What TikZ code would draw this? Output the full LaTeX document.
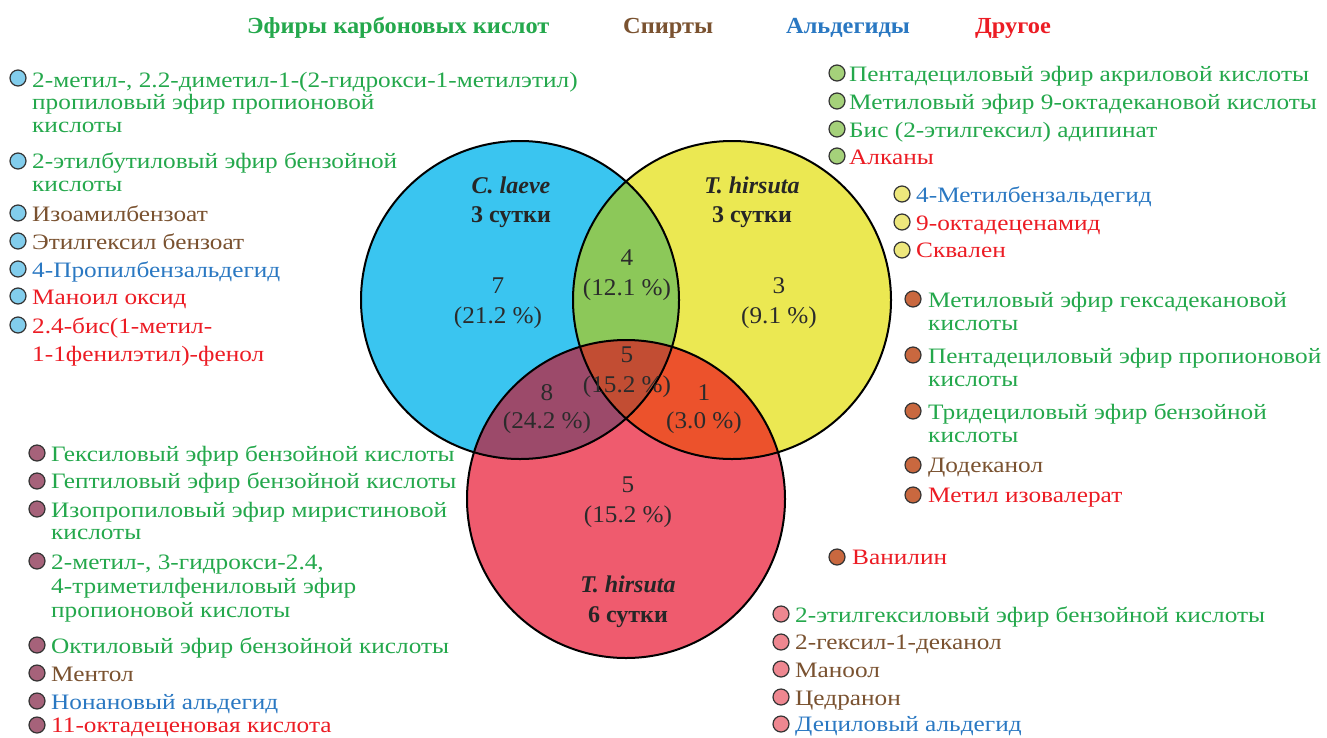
\documentclass[tikz,border=0pt]{standalone}
\usepackage{fontspec}
\setmainfont{Liberation Serif}
\newfontfamily\listfont[FakeStretch=1.15]{Liberation Serif}
\newfontfamily\hdfont[FakeStretch=1.06]{Liberation Serif}
\newfontfamily\numfont[FakeStretch=1.05]{Liberation Serif}
\definecolor{cEst}{HTML}{24A84C}
\definecolor{cAlc}{HTML}{7A5230}
\definecolor{cAld}{HTML}{2A78C2}
\definecolor{cOth}{HTML}{EC1C24}
\definecolor{fBlue}{HTML}{3AC5F0}
\definecolor{fYel}{HTML}{EBE852}
\definecolor{fPink}{HTML}{EF5B6E}
\definecolor{fGreen}{HTML}{8CC859}
\definecolor{fMauve}{HTML}{9C4A6A}
\definecolor{fOrange}{HTML}{EC522C}
\definecolor{fCenter}{HTML}{C24D33}
\definecolor{bBlue}{HTML}{82CDEC}
\definecolor{bGreen}{HTML}{A5D17A}
\definecolor{bYel}{HTML}{EDE77C}
\definecolor{bOrange}{HTML}{C9683F}
\definecolor{bMauve}{HTML}{A6627A}
\definecolor{bPink}{HTML}{EE8790}
\definecolor{numc}{HTML}{2B2B2B}
\newcommand\mytext[5]{\node[lt,text=#4] (#1) at (#2,#3) {#5};}
\newcommand\mybul[4]{\node[bul,fill=#4] (#1) at (#2,#3) {};}
\newcommand\mynum[4]{\node[num] (#1) at (#2,#3) {#4};}
\tikzset{
  lt/.style={anchor=base west,inner sep=0pt,font=\listfont\fontsize{22}{24}\selectfont},
  hd/.style={anchor=base west,inner sep=0pt,font=\hdfont\fontsize{23}{25}\selectfont\bfseries},
  bul/.style={circle,draw=black!80,line width=1.2pt,minimum size=16pt,inner sep=0pt},
  num/.style={anchor=base,inner sep=0pt,text=numc,font=\numfont\fontsize{24}{26}\selectfont},
  ttl/.style={anchor=base,inner sep=0pt,text=black!85,font=\fontsize{24}{26}\selectfont\bfseries},
  venn/.style={draw=black,line width=2pt}
}
\begin{document}
\begin{tikzpicture}[x=1pt,y=-1pt]
\useasboundingbox (0,0) rectangle (1327,737);
\fill[white] (0,0) rectangle (1327,737);
% circles
\coordinate (cA) at (520,300);
\coordinate (cB) at (732,300);
\coordinate (cC) at (626,499);
\def\R{159}
\fill[fBlue] (cA) circle (\R);
\fill[fYel] (cB) circle (\R);
\fill[fPink] (cC) circle (\R);
\begin{scope}
  \clip (cA) circle (\R);
  \fill[fGreen] (cB) circle (\R);
  \fill[fMauve] (cC) circle (\R);
  \clip (cB) circle (\R);
  \fill[fCenter] (cC) circle (\R);
\end{scope}
\begin{scope}[even odd rule]
  \clip (cB) circle (\R);
  \clip (cA) circle (\R) (-100,-100) rectangle (1500,900);
  \fill[fOrange] (cC) circle (\R);
\end{scope}
\draw[venn] (cA) circle (\R);
\draw[venn] (cB) circle (\R);
\draw[venn] (cC) circle (\R);
% titles
\node[ttl] (tA1) at (511,193) {\textit{C. laeve}};
\node[ttl] (tA2) at (511,222) {3 сутки};
\node[ttl] (tB1) at (752,193) {\textit{T. hirsuta}};
\node[ttl] (tB2) at (752,222) {3 сутки};
\node[ttl] (tC1) at (628,592) {\textit{T. hirsuta}};
\node[ttl] (tC2) at (628,622) {6 сутки};
% numbers
\mynum{n1}{498}{293}{7}
\mynum{n1p}{498}{323}{(21.2 \%)}
\mynum{n2}{627}{265}{4}
\mynum{n2p}{627}{295}{(12.1 \%)}
\mynum{n3}{779}{293}{3}
\mynum{n3p}{779}{323}{(9.1 \%)}
\mynum{n4}{627}{362}{5}
\mynum{n4p}{627}{392}{(15.2 \%)}
\mynum{n5}{547}{400}{8}
\mynum{n5p}{547}{428}{(24.2 \%)}
\mynum{n6}{704}{400}{1}
\mynum{n6p}{704}{428}{(3.0 \%)}
\mynum{n7}{628}{492}{5}
\mynum{n7p}{628}{522}{(15.2 \%)}
% headers
\node[hd,text=cEst] (h1) at (247,33) {Эфиры карбоновых кислот};
\node[hd,text=cAlc] (h2) at (623,33) {Спирты};
\node[hd,text=cAld] (h3) at (786,33) {Альдегиды};
\node[hd,text=cOth] (h4) at (975,33) {Другое};
% blue list
\mybul{bb1}{18}{78}{bBlue}
\mytext{b1a}{32}{87}{cEst}{2-метил-, 2.2-диметил-1-(2-гидрокси-1-метилэтил)}
\mytext{b1b}{32}{109}{cEst}{пропиловый эфир пропионовой}
\mytext{b1c}{32}{132}{cEst}{кислоты}
\mybul{bb2}{18}{161}{bBlue}
\mytext{b2a}{32}{168}{cEst}{2-этилбутиловый эфир бензойной}
\mytext{b2b}{32}{191}{cEst}{кислоты}
\mybul{bb3}{18}{213}{bBlue}
\mytext{b3}{32}{221}{cAlc}{Изоамилбензоат}
\mybul{bb4}{18}{241}{bBlue}
\mytext{b4}{32}{249}{cAlc}{Этилгексил бензоат}
\mybul{bb5}{18}{269}{bBlue}
\mytext{b5}{32}{277}{cAld}{4-Пропилбензальдегид}
\mybul{bb6}{18}{296}{bBlue}
\mytext{b6}{32}{304}{cOth}{Маноил оксид}
\mybul{bb7}{18}{325}{bBlue}
\mytext{b7a}{32}{333}{cOth}{2.4-бис(1-метил-}
\mytext{b7b}{32}{361}{cOth}{1-1фенилэтил)-фенол}
% green list
\mybul{gb1}{837}{73}{bGreen}
\mytext{g1}{849}{81}{cEst}{Пентадециловый эфир акриловой кислоты}
\mybul{gb2}{837}{101}{bGreen}
\mytext{g2}{849}{109}{cEst}{Метиловый эфир 9-октадекановой кислоты}
\mybul{gb3}{837}{129}{bGreen}
\mytext{g3}{849}{137}{cEst}{Бис (2-этилгексил) адипинат}
\mybul{gb4}{837}{156}{bGreen}
\mytext{g4}{849}{164}{cOth}{Алканы}
% yellow list
\mybul{yb1}{902}{194}{bYel}
\mytext{y1}{916}{202}{cAld}{4-Метилбензальдегид}
\mybul{yb2}{902}{222}{bYel}
\mytext{y2}{916}{230}{cOth}{9-октадеценамид}
\mybul{yb3}{902}{250}{bYel}
\mytext{y3}{916}{257}{cOth}{Сквален}
% orange list
\mybul{ob1}{913}{299}{bOrange}
\mytext{o1a}{928}{307}{cEst}{Метиловый эфир гексадекановой}
\mytext{o1b}{928}{330}{cEst}{кислоты}
\mybul{ob2}{913}{355}{bOrange}
\mytext{o2a}{928}{363}{cEst}{Пентадециловый эфир пропионовой}
\mytext{o2b}{928}{386}{cEst}{кислоты}
\mybul{ob3}{913}{411}{bOrange}
\mytext{o3a}{928}{419}{cEst}{Тридециловый эфир бензойной}
\mytext{o3b}{928}{442}{cEst}{кислоты}
\mybul{ob4}{913}{465}{bOrange}
\mytext{o4}{928}{472}{cAlc}{Додеканол}
\mybul{ob5}{913}{495}{bOrange}
\mytext{o5}{928}{502}{cOth}{Метил изовалерат}
\mybul{ob6}{837}{557}{bOrange}
\mytext{o6}{852}{564}{cOth}{Ванилин}
% pink list
\mybul{pb1}{781}{614}{bPink}
\mytext{p1}{795}{622}{cEst}{2-этилгексиловый эфир бензойной кислоты}
\mybul{pb2}{781}{642}{bPink}
\mytext{p2}{795}{649}{cAlc}{2-гексил-1-деканол}
\mybul{pb3}{781}{669}{bPink}
\mytext{p3}{795}{677}{cAlc}{Маноол}
\mybul{pb4}{781}{697}{bPink}
\mytext{p4}{795}{705}{cAlc}{Цедранон}
\mybul{pb5}{781}{724}{bPink}
\mytext{p5}{795}{731}{cAld}{Дециловый альдегид}
% mauve list
\mybul{mb1}{37}{453}{bMauve}
\mytext{m1}{51}{461}{cEst}{Гексиловый эфир бензойной кислоты}
\mybul{mb2}{37}{481}{bMauve}
\mytext{m2}{51}{488}{cEst}{Гептиловый эфир бензойной кислоты}
\mybul{mb3}{37}{509}{bMauve}
\mytext{m3a}{51}{517}{cEst}{Изопропиловый эфир миристиновой}
\mytext{m3b}{51}{539}{cEst}{кислоты}
\mybul{mb4}{37}{561}{bMauve}
\mytext{m4a}{51}{569}{cEst}{2-метил-, 3-гидрокси-2.4,}
\mytext{m4b}{51}{593}{cEst}{4-триметилфениловый эфир}
\mytext{m4c}{51}{617}{cEst}{пропионовой кислоты}
\mybul{mb5}{37}{645}{bMauve}
\mytext{m5}{51}{653}{cEst}{Октиловый эфир бензойной кислоты}
\mybul{mb6}{37}{673}{bMauve}
\mytext{m6}{51}{681}{cAlc}{Ментол}
\mybul{mb7}{37}{701}{bMauve}
\mytext{m7}{51}{709}{cAld}{Нонановый альдегид}
\mybul{mb8}{37}{725}{bMauve}
\mytext{m8}{51}{732}{cOth}{11-октадеценовая кислота}
\end{tikzpicture}
\end{document}
